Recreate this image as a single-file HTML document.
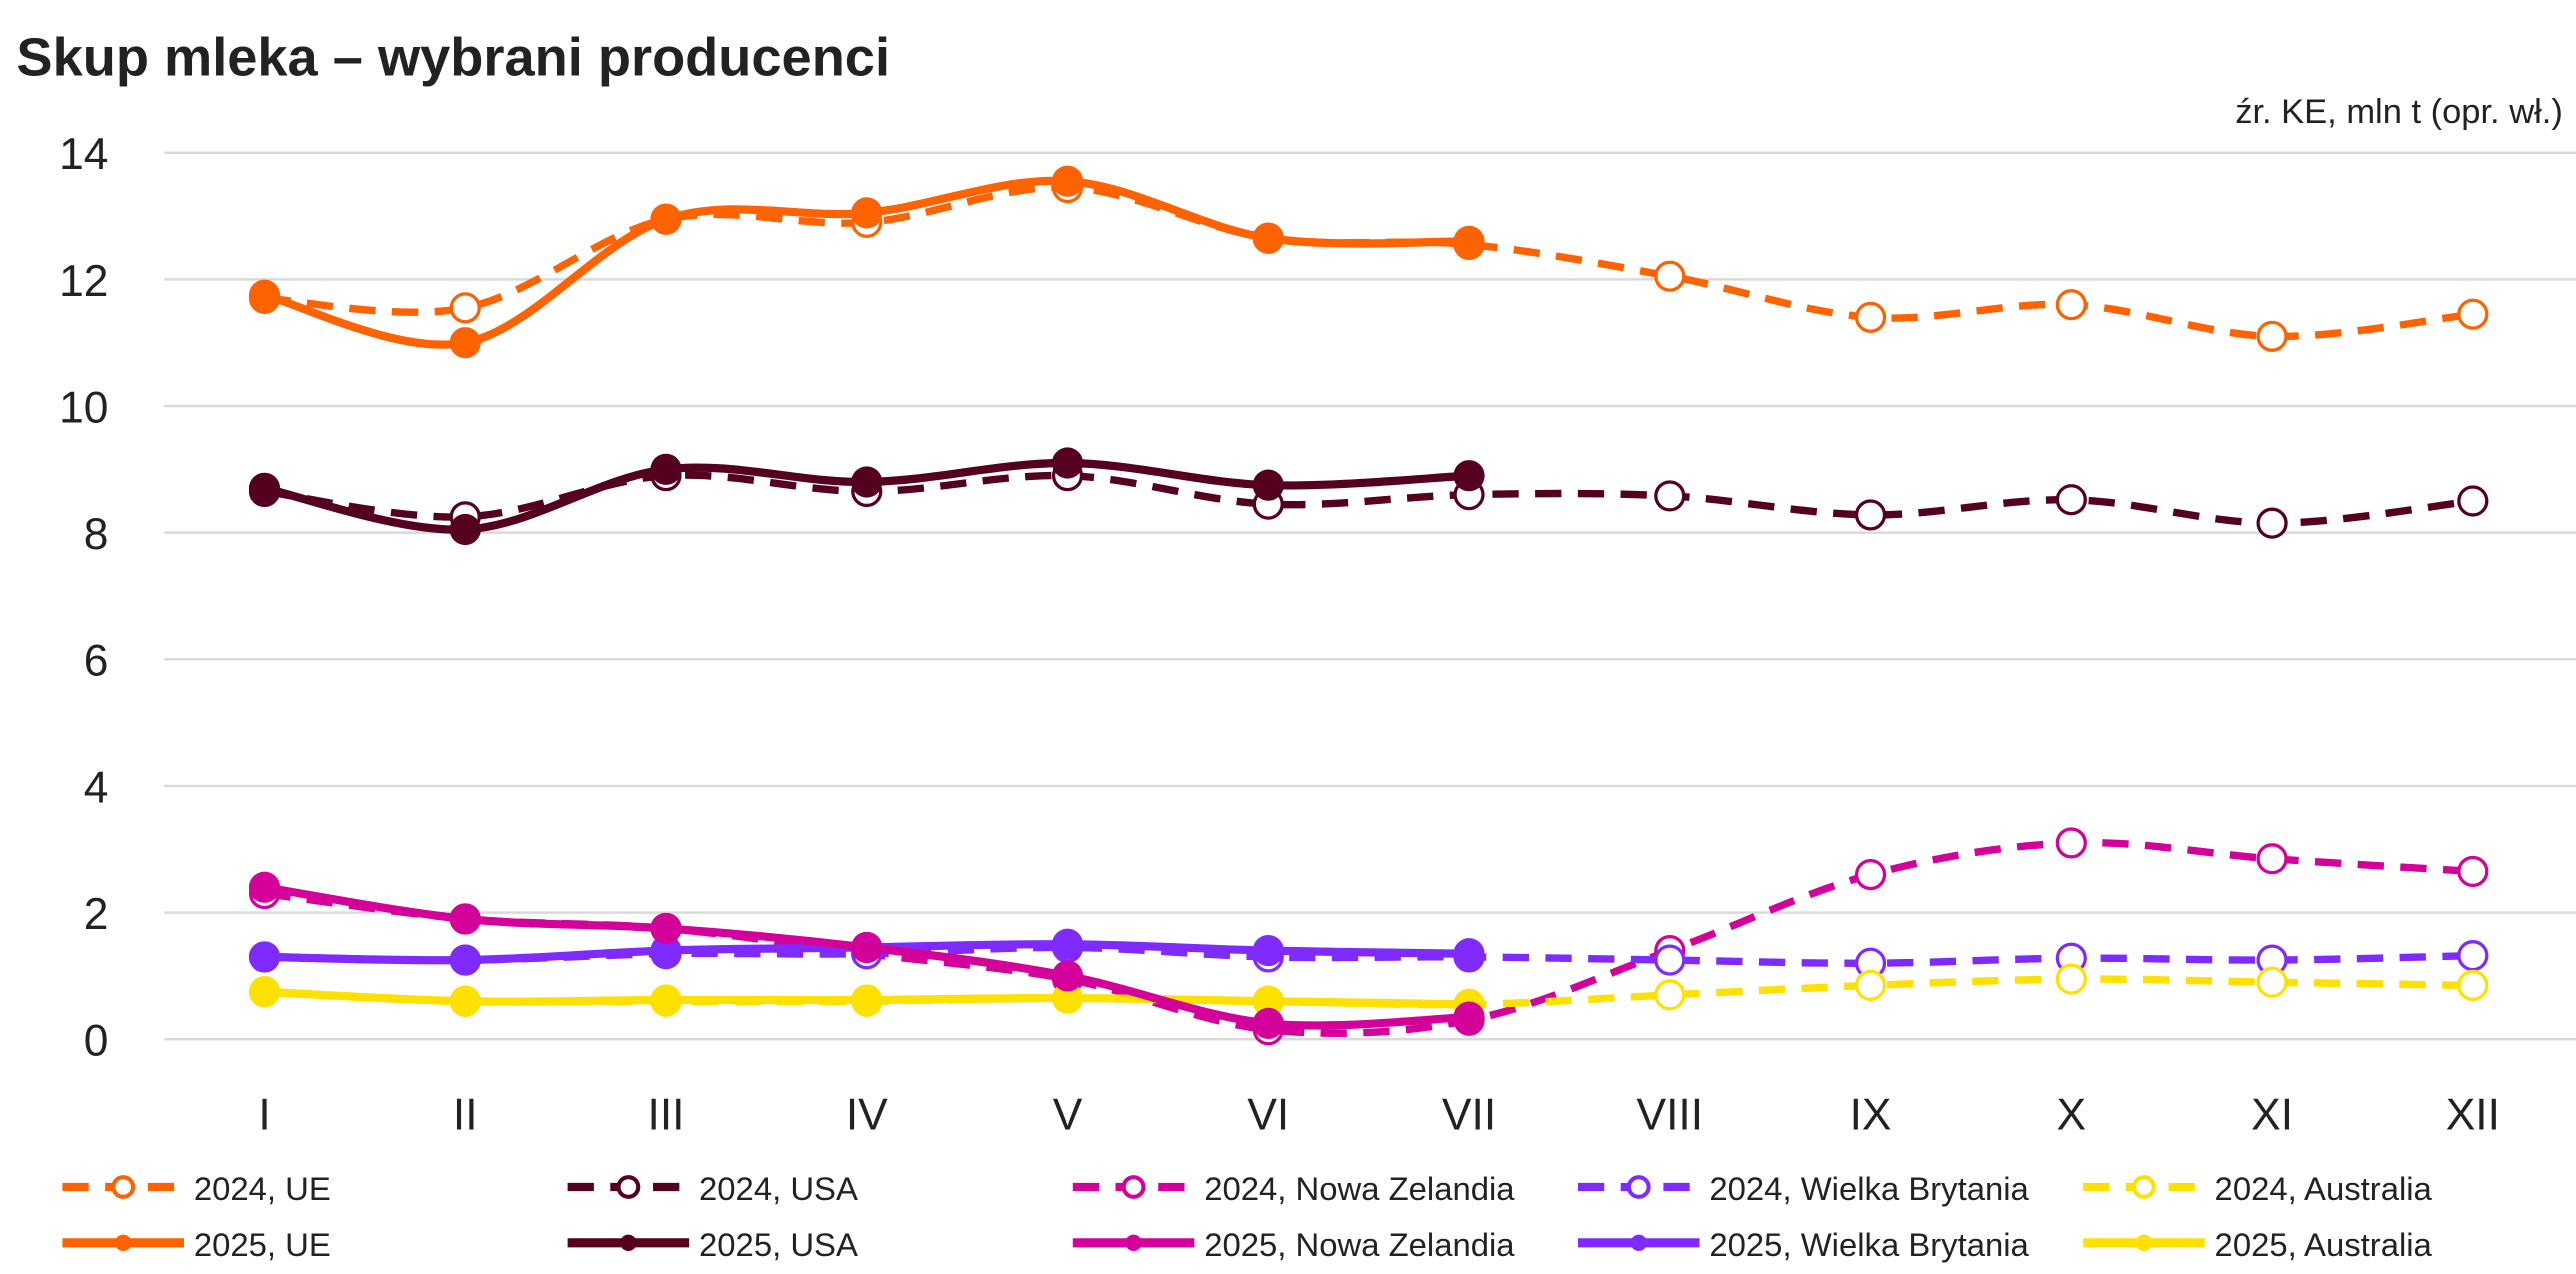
<!DOCTYPE html>
<html><head><meta charset="utf-8"><style>
html,body{margin:0;padding:0;background:#fff;}
svg{display:block;}
text{font-family:"Liberation Sans",sans-serif;fill:#222;}
</style></head><body>
<svg id="c" width="2576" height="1274" viewBox="0 0 1568 776" preserveAspectRatio="none" xmlns="http://www.w3.org/2000/svg">
<text x="10" y="46" font-size="33" font-weight="bold" fill="#111">Skup mleka – wybrani producenci</text>
<text x="1560" y="75" font-size="21" text-anchor="end">źr. KE, mln t (opr. wł.)</text>
<g id="grid"></g>
<g id="series"></g>
<g id="legend"></g>
</svg>
<script>
const NS="http://www.w3.org/2000/svg";
function el(p,t,a,txt){const e=document.createElementNS(NS,t);for(const k in a)e.setAttribute(k,a[k]);if(txt!==undefined)e.textContent=txt;p.appendChild(e);return e;}
const X=i=>161+i*122.2, Y=v=>633-v*38.57;
const g=document.getElementById('grid');
for(let v=0;v<=14;v+=2){el(g,'line',{x1:100,x2:1568,y1:Y(v),y2:Y(v),stroke:'#d9d9d9','stroke-width':1.5});
el(g,'text',{x:66,y:Y(v)+10,'font-size':27,'text-anchor':'end'},String(v));}
['I','II','III','IV','V','VI','VII','VIII','IX','X','XI','XII'].forEach((m,i)=>el(g,'text',{x:X(i),y:688,'font-size':27,'text-anchor':'middle'},m));
const C={ue:'#FF6200',us:'#55001F',nz:'#D3009A',gb:'#7F2BFF',au:'#FFE100'};
const D=[
['ue',0,[11.7,11.55,12.95,12.9,13.45,12.65,12.55,12.05,11.4,11.6,11.1,11.45]],
['us',0,[8.65,8.25,8.9,8.65,8.9,8.45,8.6,8.58,8.28,8.52,8.15,8.5]],
['nz',0,[2.3,1.9,1.75,1.35,0.95,0.15,0.3,1.4,2.6,3.1,2.85,2.65]],
['gb',0,[1.3,1.25,1.35,1.35,1.45,1.3,1.3,1.25,1.2,1.28,1.25,1.32]],
['au',0,[0.75,0.6,0.6,0.6,0.65,0.6,0.55,0.7,0.85,0.95,0.9,0.85]],
['au',1,[0.75,0.6,0.62,0.62,0.65,0.6,0.55]],
['gb',1,[1.3,1.25,1.4,1.45,1.5,1.4,1.35]],
['nz',1,[2.4,1.9,1.75,1.45,1.0,0.25,0.35]],
['us',1,[8.7,8.05,9.0,8.8,9.1,8.75,8.9]],
['ue',1,[11.75,11.0,12.95,13.05,13.55,12.65,12.6]]];
function path(pts){let d=`M${pts[0][0]},${pts[0][1]}`;
for(let i=0;i<pts.length-1;i++){const p0=pts[i-1]||pts[i],p1=pts[i],p2=pts[i+1],p3=pts[i+2]||p2;
const c1=[p1[0]+(p2[0]-p0[0])/6,p1[1]+(p2[1]-p0[1])/6],c2=[p2[0]-(p3[0]-p1[0])/6,p2[1]-(p3[1]-p1[1])/6];
d+=` C${c1[0]},${c1[1]} ${c2[0]},${c2[1]} ${p2[0]},${p2[1]}`;}return d;}
const s=document.getElementById('series');
D.forEach(([k,y25,v])=>{const pts=v.map((a,i)=>[X(i),Y(a)]);
el(s,'path',{d:path(pts),fill:'none',stroke:C[k],'stroke-width':y25?5:4.5,'stroke-dasharray':y25?'none':'16 10'});
pts.forEach(p=>{ if(y25) el(s,'circle',{cx:p[0],cy:p[1],r:9.5,fill:C[k]}); else el(s,'circle',{cx:p[0],cy:p[1],r:8.5,fill:'#fff',stroke:C[k],'stroke-width':2});});});
const L=document.getElementById('legend');
const names={ue:'UE',us:'USA',nz:'Nowa Zelandia',gb:'Wielka Brytania',au:'Australia'};
['ue','us','nz','gb','au'].forEach((k,i)=>{const x0=38+i*307.5;
[[0,723],[1,757]].forEach(([y25,y])=>{
el(L,'line',{x1:x0,x2:x0+74,y1:y,y2:y,stroke:C[k],'stroke-width':y25?5.5:5,'stroke-dasharray':y25?'none':'16 10'});
if(y25) el(L,'circle',{cx:x0+37,cy:y,r:5,fill:C[k]}); else el(L,'circle',{cx:x0+37,cy:y,r:6,fill:'#fff',stroke:C[k],'stroke-width':2.5});
el(L,'text',{x:x0+80,y:y+8,'font-size':20},(y25?'2025, ':'2024, ')+names[k]);});});
</script>
</body></html>
